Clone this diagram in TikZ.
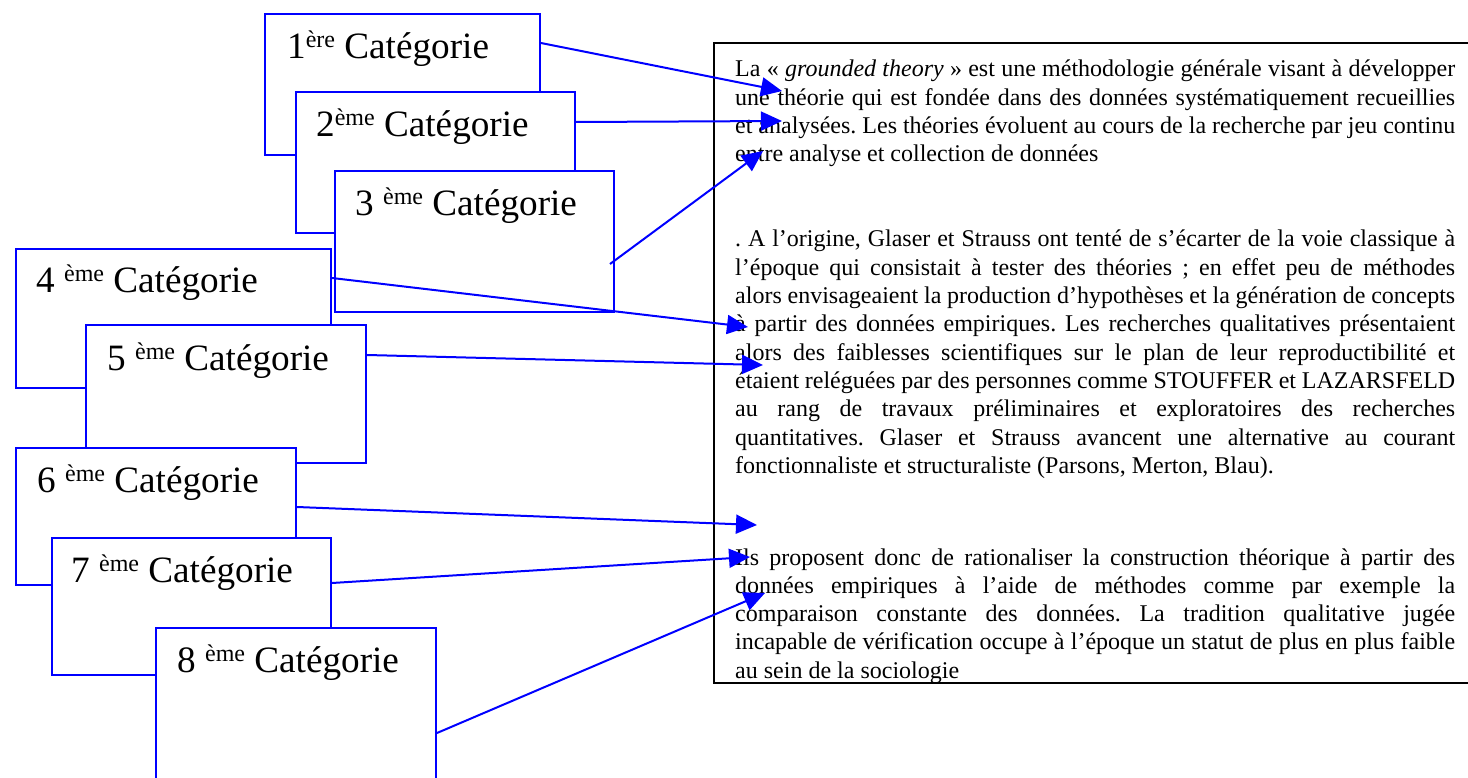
\documentclass[tikz,border=0pt]{standalone}
\usepackage{fontspec}
\setmainfont{Liberation Serif}
\usetikzlibrary{arrows.meta,calc}
\frenchspacing
\hyphenpenalty=10000
\newcommand{\expo}[1]{\raisebox{11pt}{\fontsize{24}{24}\selectfont #1}}
\tikzset{
 catbox/.style={draw=blue, line width=2pt, fill=white, anchor=north west,
   minimum width=280pt, minimum height=138pt, inner sep=0pt},
 catlabel/.style={anchor=base west, inner sep=0pt, font=\fontsize{37.2}{44}\selectfont},
 para/.style={anchor=base west, inner sep=0pt, text width=720pt, align=justify,
   font=\fontsize{24}{28.3}\selectfont},
 link/.style={draw=blue, line width=2pt, -{Triangle[length=21pt,width=19pt]}}
}

\begin{document}
\begin{tikzpicture}[x=1pt,y=-1pt]
 \useasboundingbox (0,0) rectangle (1468,778);
 \draw[line width=2pt] (714,43) rectangle (1472,683);
 \node[para] (p1) at (735,77) {La « \textit{grounded theory} » est une méthodologie générale visant à développer\linebreak
  une théorie qui est fondée dans des données systématiquement recueillies\linebreak
  et analysées. Les théories évoluent au cours de la recherche par jeu continu\linebreak
  entre analyse et collection de données};
 \node[para] (p2) at (735,247) {. A l’origine, Glaser et Strauss ont tenté de s’écarter de la voie classique à\linebreak
  l’époque qui consistait à tester des théories ; en effet peu de méthodes\linebreak
  alors envisageaient la production d’hypothèses et la génération de concepts\linebreak
  à partir des données empiriques. Les recherches qualitatives présentaient\linebreak
  alors des faiblesses scientifiques sur le plan de leur reproductibilité et\linebreak
  étaient reléguées par des personnes comme STOUFFER et LAZARSFELD\linebreak
  au rang de travaux préliminaires et exploratoires des recherches\linebreak
  quantitatives. Glaser et Strauss avancent une alternative au courant\linebreak
  fonctionnaliste et structuraliste (Parsons, Merton, Blau).};
 \node[para] (p3) at (735,565) {Ils proposent donc de rationaliser la construction théorique à partir des\linebreak
  données empiriques à l’aide de méthodes comme par exemple la\linebreak
  comparaison constante des données. La tradition qualitative jugée\linebreak
  incapable de vérification occupe à l’époque un statut de plus en plus faible\linebreak
  au sein de la sociologie};

 \node[catbox, minimum width=275pt, minimum height=141pt] (c1) at (264,13) {};
 \node[catlabel] (l1) at ($(c1.north west)+(23,46)$) {1\expo{ère} Catégorie};
 \node[catbox, minimum width=279pt, minimum height=141pt] (c2) at (295,91) {};
 \node[catlabel] (l2) at ($(c2.north west)+(21,46)$) {2\expo{ème} Catégorie};
 \node[catbox, minimum width=279pt, minimum height=141pt] (c3) at (334,170) {};
 \node[catlabel] (l3) at ($(c3.north west)+(21,46)$) {3 \expo{ème} Catégorie};
 \node[catbox, minimum width=315pt, minimum height=139pt] (c4) at (15,248) {};
 \node[catlabel] (l4) at ($(c4.north west)+(21,45)$) {4 \expo{ème} Catégorie};
 \node[catbox] (c5) at (85,324) {};
 \node[catlabel] (l5) at ($(c5.north west)+(22,46)$) {5 \expo{ème} Catégorie};
 \node[catbox, minimum height=137pt] (c6) at (15,447) {};
 \node[catlabel] (l6) at ($(c6.north west)+(22,45)$) {6 \expo{ème} Catégorie};
 \node[catbox, minimum width=279pt, minimum height=137pt] (c7) at (51,537) {};
 \node[catlabel] (l7) at ($(c7.north west)+(20,45)$) {7 \expo{ème} Catégorie};
 \node[catbox, minimum height=170pt] (c8) at (155,627) {};
 \node[catlabel] (l8) at ($(c8.north west)+(22,45)$) {8 \expo{ème} Catégorie};

 \coordinate (t1) at (782,91);
 \coordinate (t2) at (782,121);
 \coordinate (t3) at (763,151);
 \coordinate (t4) at (748,327);
 \coordinate (t5) at (763,365);
 \coordinate (t6) at (757,525);
 \coordinate (t7) at (750,557);
 \coordinate (t8) at (765,593);
 \draw[link] ($(c1.north east)+(0,30)$) -- (t1);
 \draw[link] ($(c2.north east)+(0,31)$) -- (t2);
 \draw[link] ($(c3.north east)+(-5,94)$) -- (t3);
 \draw[link] ($(c4.north east)+(0,30)$) -- (t4);
 \draw[link] ($(c5.north east)+(0,31)$) -- (t5);
 \draw[link] ($(c6.north east)+(0,60)$) -- (t6);
 \draw[link] ($(c7.north east)+(0,46)$) -- (t7);
 \draw[link] ($(c8.north east)+(0,106)$) -- (t8);
\end{tikzpicture}
\end{document}
